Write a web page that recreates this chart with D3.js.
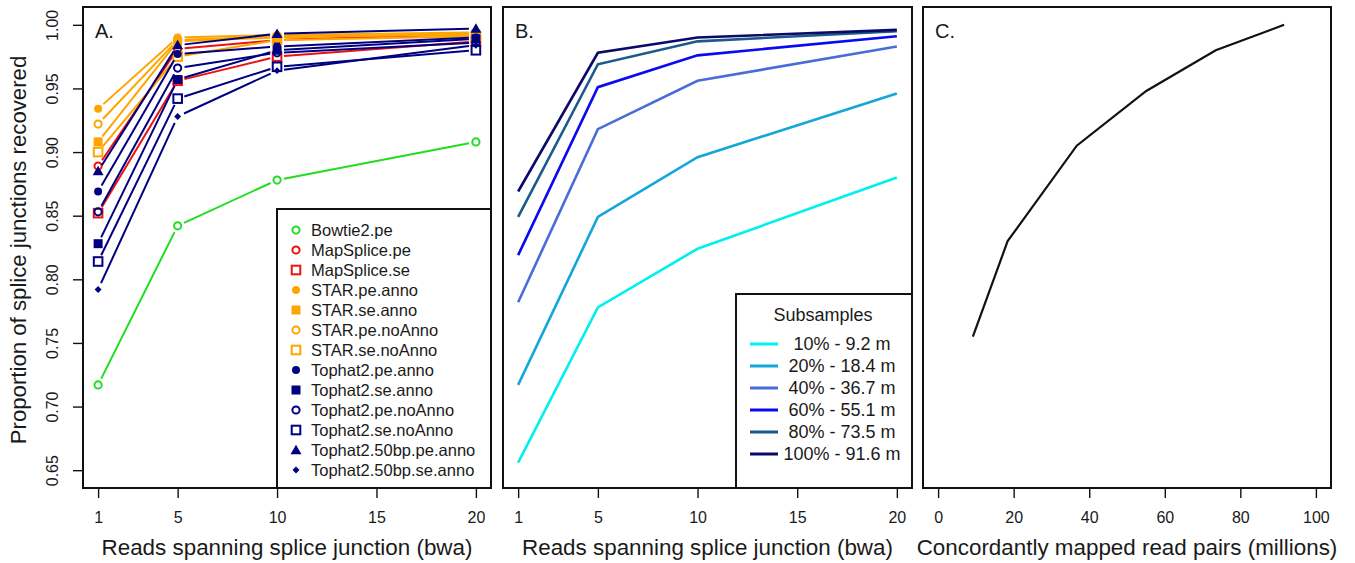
<!DOCTYPE html>
<html>
<head>
<meta charset="utf-8">
<script src="https://cdn.jsdelivr.net/npm/d3@7"></script>
<style>
  body { margin:0; background:#fff; }
  svg text { font-family:"Liberation Sans", Arial, sans-serif; fill:#1a1a1a; }
</style>
</head>
<body>
<div id="chart-area"></div>
<script>
// Splice junction recovery, three panels
var depth = [1, 5, 10, 20];
var xTicksAB = [1, 5, 10, 15, 20];
var xTicksC = [0, 20, 40, 60, 80, 100];
var yTicks = [0.65, 0.70, 0.75, 0.80, 0.85, 0.90, 0.95, 1.00];

// panel A series
var aligners = ["Bowtie2.pe", "MapSplice.pe", "MapSplice.se", "STAR.pe.anno", "STAR.se.anno",
  "STAR.pe.noAnno", "STAR.se.noAnno", "Tophat2.pe.anno", "Tophat2.se.anno", "Tophat2.pe.noAnno",
  "Tophat2.se.noAnno", "Tophat2.50bp.pe.anno", "Tophat2.50bp.se.anno"];
var alignerColors = ["#22dd22", "#ee1111", "#ee1111", "#ffa500", "#ffa500", "#ffa500", "#ffa500",
  "#000080", "#000080", "#000080", "#000080", "#000080", "#000080"];
var alignerShapes = ["ocircle", "ocircle", "osquare", "circle", "square", "ocircle", "osquare",
  "circle", "square", "ocircle", "osquare", "triangle", "diamond"];
var alignerValues = [
  [0.717, 0.842, 0.878, 0.908],
  [0.889, 0.981, 0.988, 0.993],
  [0.852, 0.956, 0.975, 0.987],
  [0.934, 0.990, 0.992, 0.994],
  [0.908, 0.987, 0.990, 0.993],
  [0.922, 0.988, 0.991, 0.992],
  [0.900, 0.975, 0.988, 0.991],
  [0.869, 0.977, 0.983, 0.990],
  [0.828, 0.957, 0.980, 0.989],
  [0.853, 0.966, 0.978, 0.986],
  [0.814, 0.942, 0.967, 0.980],
  [0.885, 0.984, 0.993, 0.997],
  [0.792, 0.928, 0.964, 0.984]
];

// panel B series
var subsamples = ["10% - 9.2 m", "20% - 18.4 m", "40% - 36.7 m", "60% - 55.1 m", "80% - 73.5 m", "100% - 91.6 m"];
var subColors = ["#00f0f0", "#14a6da", "#4a6cd8", "#0a0af0", "#1b5a8a", "#0a0a6a"];
var subValues = [
  [0.656, 0.778, 0.824, 0.880],
  [0.717, 0.849, 0.896, 0.946],
  [0.782, 0.918, 0.956, 0.983],
  [0.819, 0.951, 0.976, 0.991],
  [0.849, 0.969, 0.987, 0.995],
  [0.869, 0.978, 0.990, 0.996]
];

// panel C
var readPairs = [9.2, 18.4, 36.7, 55.1, 73.5, 91.6];
var recovered = [0.755, 0.830, 0.905, 0.948, 0.980, 1.000];

var W = 1355, H = 563;
var top_ = 7, bottom = 488;

var svg = d3.select("#chart-area").append("svg")
  .attr("width", W).attr("height", H);

function pad(lo, hi) { var d = (hi - lo) * 0.04; return [lo - d, hi + d]; }

var y = d3.scaleLinear().domain(pad(0.65, 1.0)).range([bottom, top_]);

function panel(left, right, xdom, ticks, label, title) {
  var x = d3.scaleLinear().domain(pad(xdom[0], xdom[1])).range([left, right]);
  var ax = svg.append("g")
    .attr("transform", "translate(0," + bottom + ")")
    .call(d3.axisBottom(x).tickValues(ticks).tickSize(10).tickPadding(14).tickSizeOuter(0));
  ax.select(".domain").remove();
  ax.selectAll("line").attr("stroke", "#111").attr("stroke-width", 1.4);
  ax.selectAll("text").attr("font-size", "16px").attr("fill", "#222")
    .style("font-family", "Liberation Sans, Arial, sans-serif");
  svg.append("text").attr("x", (left + right) / 2).attr("y", 555)
    .attr("text-anchor", "middle").attr("font-size", "22.4px").text(title);
  svg.append("text").attr("x", left + 12).attr("y", 38)
    .attr("font-size", "20px").text(label);
  return x;
}

function drawBox(left, right) {
  svg.append("rect").attr("x", left).attr("y", top_)
    .attr("width", right - left).attr("height", bottom - top_)
    .attr("fill", "none").attr("stroke", "#111").attr("stroke-width", 2);
}

// ---------- Panel A ----------
var xA = panel(83, 491, [1, 20], xTicksAB, "A.", "Reads spanning splice junction (bwa)");

var ay = svg.append("g").attr("transform", "translate(83,0)")
  .call(d3.axisLeft(y).tickValues(yTicks).tickSize(10).tickSizeOuter(0).tickFormat(d3.format(".2f")));
ay.select(".domain").remove();
ay.selectAll("line").attr("stroke", "#111").attr("stroke-width", 1.4);
ay.selectAll("text")
  .attr("x", 0).attr("dy", 0)
  .attr("text-anchor", "middle")
  .attr("transform", "translate(-25,0) rotate(-90)")
  .attr("font-size", "16px").attr("fill", "#222")
  .style("font-family", "Liberation Sans, Arial, sans-serif");

svg.append("text")
  .attr("transform", "translate(26,250) rotate(-90)")
  .attr("text-anchor", "middle").attr("font-size", "22.2px")
  .text("Proportion of splice junctions recovered");

function marker(g, shape, color, cx, cy) {
  if (shape == "ocircle") {
    g.append("circle").attr("cx", cx).attr("cy", cy).attr("r", 3.6)
      .attr("fill", "none").attr("stroke", color).attr("stroke-width", 2);
  } else if (shape == "osquare") {
    g.append("rect").attr("x", cx - 4.3).attr("y", cy - 4.3).attr("width", 8.6).attr("height", 8.6)
      .attr("fill", "none").attr("stroke", color).attr("stroke-width", 2);
  } else if (shape == "circle") {
    g.append("circle").attr("cx", cx).attr("cy", cy).attr("r", 4).attr("fill", color);
  } else if (shape == "square") {
    g.append("rect").attr("x", cx - 4.5).attr("y", cy - 4.5).attr("width", 9).attr("height", 9).attr("fill", color);
  } else if (shape == "triangle") {
    g.append("path").attr("d", d3.symbol().type(d3.symbolTriangle).size(52)())
      .attr("transform", "translate(" + cx + "," + (cy + 1) + ")").attr("fill", color);
  } else if (shape == "diamond") {
    g.append("path").attr("d", d3.symbol().type(d3.symbolSquare).size(24)())
      .attr("transform", "translate(" + cx + "," + cy + ") rotate(45)").attr("fill", color);
  }
}

var gA = svg.append("g");
var gap = 7;
alignerValues.forEach(function(vals, s) {
  var pts = vals.map(function(v, i) { return [xA(depth[i]), y(v)]; });
  for (var i = 0; i < pts.length - 1; i++) {
    var p0 = pts[i], p1 = pts[i + 1];
    var dx = p1[0] - p0[0], dy = p1[1] - p0[1];
    var len = Math.sqrt(dx * dx + dy * dy);
    var ux = dx / len, uy = dy / len;
    gA.append("line")
      .attr("x1", p0[0] + ux * gap).attr("y1", p0[1] + uy * gap)
      .attr("x2", p1[0] - ux * gap).attr("y2", p1[1] - uy * gap)
      .attr("stroke", alignerColors[s]).attr("stroke-width", 2);
  }
  pts.forEach(function(p) { marker(gA, alignerShapes[s], alignerColors[s], p[0], p[1]); });
});

// legend A
svg.append("rect").attr("x", 277).attr("y", 209).attr("width", 214).attr("height", 279)
  .attr("fill", "#fff").attr("stroke", "#111").attr("stroke-width", 2);
aligners.forEach(function(name, i) {
  var ly = 230 + i * 20;
  marker(svg, alignerShapes[i], alignerColors[i], 296, ly);
  svg.append("text").attr("x", 311).attr("y", ly + 6).attr("font-size", "16.5px").text(name);
});
drawBox(83, 491);

// ---------- Panel B ----------
var xB = panel(503, 912, [1, 20], xTicksAB, "B.", "Reads spanning splice junction (bwa)");
var lineB = d3.line().x(function(d, i) { return xB(depth[i]); }).y(function(d) { return y(d); });
subValues.forEach(function(vals, s) {
  svg.append("path").attr("d", lineB(vals)).attr("fill", "none")
    .attr("stroke", subColors[s]).attr("stroke-width", 2.6);
});
svg.append("rect").attr("x", 736).attr("y", 294).attr("width", 176).attr("height", 194)
  .attr("fill", "#fff").attr("stroke", "#111").attr("stroke-width", 2);
svg.append("text").attr("x", 823).attr("y", 321).attr("text-anchor", "middle")
  .attr("font-size", "18px").text("Subsamples");
subsamples.forEach(function(name, i) {
  var ly = 344 + i * 22;
  svg.append("line").attr("x1", 750).attr("x2", 778).attr("y1", ly).attr("y2", ly)
    .attr("stroke", subColors[i]).attr("stroke-width", 3);
  svg.append("text").attr("x", 842).attr("y", ly + 6).attr("text-anchor", "middle")
    .attr("font-size", "18px").text(name);
});
drawBox(503, 912);

// ---------- Panel C ----------
var xC = panel(923, 1331, [0, 100], xTicksC, "C.", "Concordantly mapped read pairs (millions)");
var lineC = d3.line().x(function(d, i) { return xC(readPairs[i]); }).y(function(d) { return y(d); });
svg.append("path").attr("d", lineC(recovered)).attr("fill", "none")
  .attr("stroke", "#111").attr("stroke-width", 2.2);
drawBox(923, 1331);
</script>
</body>
</html>
